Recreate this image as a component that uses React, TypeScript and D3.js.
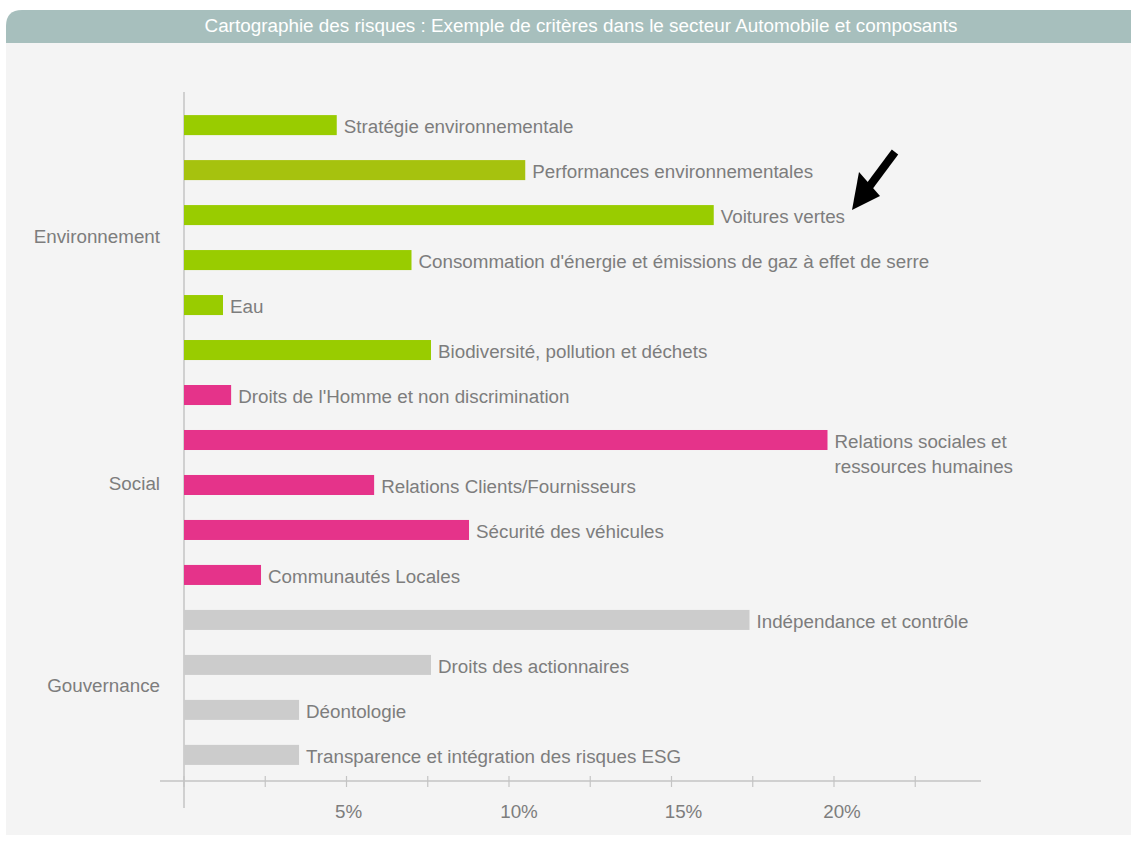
import React from "react";
import * as d3 from "d3";

const criteria = [
  "Stratégie environnementale",
  "Performances environnementales",
  "Voitures vertes",
  "Consommation d'énergie et émissions de gaz à effet de serre",
  "Eau",
  "Biodiversité, pollution et déchets",
  "Droits de l'Homme et non discrimination",
  "Relations sociales et|ressources humaines",
  "Relations Clients/Fournisseurs",
  "Sécurité des véhicules",
  "Communautés Locales",
  "Indépendance et contrôle",
  "Droits des actionnaires",
  "Déontologie",
  "Transparence et intégration des risques ESG",
];
const values = [4.7, 10.5, 16.3, 7.0, 1.2, 7.6, 1.45, 19.8, 5.85, 8.77, 2.37, 17.4, 7.6, 3.54, 3.54];
const pillar = ["E", "E", "E", "E", "E", "E", "S", "S", "S", "S", "S", "G", "G", "G", "G"];
const groups = ["Environnement", "Social", "Gouvernance"];
const groupKeys = ["E", "S", "G"];
const tickValues = [0, 2.5, 5, 7.5, 10, 12.5, 15, 17.5, 20, 22.5];
const labelValues = [5, 10, 15, 20];
const title = "Cartographie des risques : Exemple de critères dans le secteur Automobile et composants";

const colors: Record<string, string> = { E: "#99cc00", S: "#e5338a", G: "#cccccc" };

export default function App() {
  const W = 1131, H = 841;
  const x = d3.scaleLinear().domain([0, 10]).range([184, 509]);
  const y = d3.scaleBand<number>().domain(d3.range(criteria.length)).range([102.5, 777.5]).paddingInner(0.555).paddingOuter(0.28);
  const font = "'Liberation Sans', Arial, sans-serif";
  const textCol = "#7d7d7d";
  const fs = 18.8;
  return (
    <svg width={W} height={H} style={{ position: "absolute", left: 0, top: 0 }} fontFamily={font}>
      <rect x={0} y={0} width={W} height={H} fill="#ffffff" />
      <path d={`M6,43 L6,26 Q6,10 22,10 L${W},10 L${W},43 Z`} fill="#a7bfbd" />
      <rect x={6} y={43} width={W - 6} height={792} fill="#f4f4f4" />
      <text x={581} y={32} textAnchor="middle" fill="#ffffff" fontSize={18} textLength={753} lengthAdjust="spacingAndGlyphs">{title}</text>
      {/* axes */}
      <line x1={184} x2={184} y1={92} y2={808} stroke="#c4c4c4" strokeWidth={1.5} />
      <line x1={160} x2={981} y1={781} y2={781} stroke="#c4c4c4" strokeWidth={1.5} />
      {tickValues.map((t) => (
        <line key={t} x1={x(t)} x2={x(t)} y1={776} y2={787} stroke="#c4c4c4" strokeWidth={1.2} />
      ))}
      {labelValues.map((t, i) => (
        <text key={t} x={x(t) + [2, 10, 12, 8][i]} y={818} textAnchor="middle" fill={textCol} fontSize={fs}>{t}%</text>
      ))}
      {criteria.map((c, i) => {
        const yy = y(i)!;
        const h = y.bandwidth();
        const lines = c.split("|");
        const col = i === 1 ? "#a6c20e" : colors[pillar[i]];
        return (
          <g key={c}>
            <rect x={x(0)} y={yy} width={x(values[i]) - x(0)} height={h} fill={col} />
            {lines.map((l, k) => (
              <text key={k} x={x(values[i]) + 7} y={yy + h / 2 + 8 + k * 25} fill={textCol} fontSize={fs}>{l}</text>
            ))}
          </g>
        );
      })}
      {groups.map((g, gi) => {
        const idx = d3.range(criteria.length).filter((i) => pillar[i] === groupKeys[gi]);
        const cy = (y(idx[0])! + y(idx[idx.length - 1])! + y.bandwidth()) / 2;
        return (
          <text key={g} x={160} y={cy + 5} textAnchor="end" fill={textCol} fontSize={fs}>{g}</text>
        );
      })}
      {/* arrow */}
      <line x1={895} x2={866} y1={152} y2={191} stroke="#000" strokeWidth={8} />
      <polygon points="852,210 859,172 880,196" fill="#000" />
    </svg>
  );
}
